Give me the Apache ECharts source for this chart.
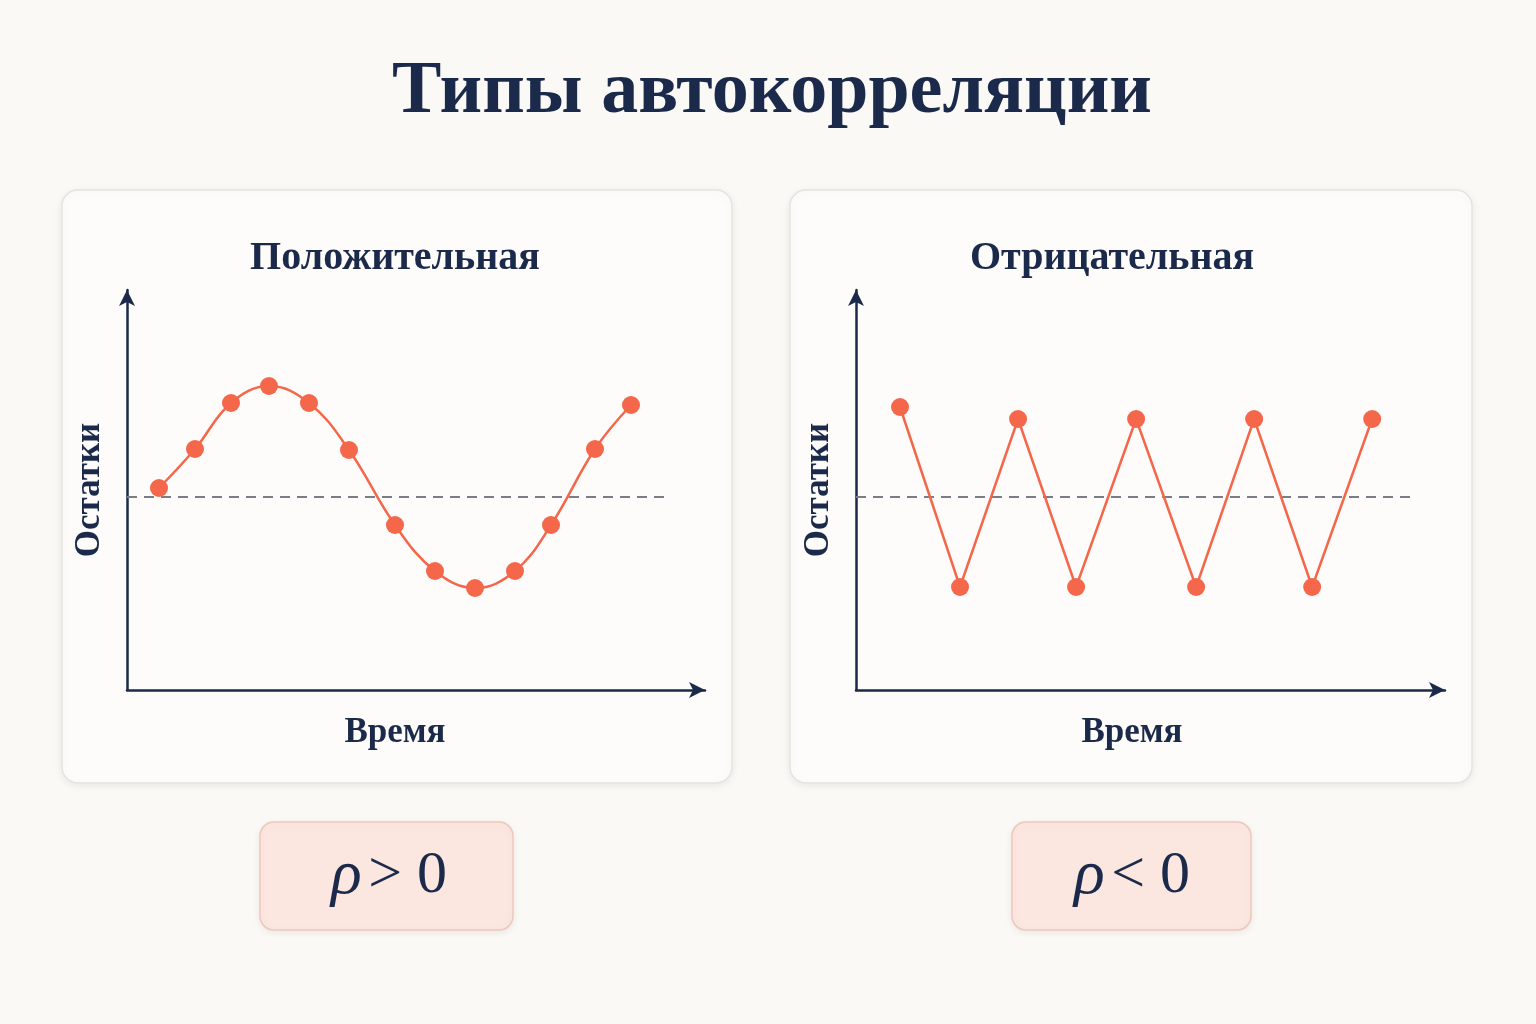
<!DOCTYPE html>
<html><head><meta charset="utf-8">
<script src="https://cdn.jsdelivr.net/npm/echarts@6/dist/echarts.min.js"></script>
<style>html,body{margin:0;background:#faf9f6}#c{width:1536px;height:1024px}</style>
</head><body><div id="c"></div>
<script>
const title = 'Типы автокорреляции';
const panelTitles = ['Положительная', 'Отрицательная'];
const xName = 'Время';
const yName = 'Остатки';
const rhoLabels = ['> 0', '< 0'];
const posT = [0.8,1.7,2.6,3.55,4.55,5.55,6.7,7.7,8.7,9.7,10.6,11.7,12.6];
const posR = [0.09,0.48,0.94,1.11,0.94,0.47,-0.28,-0.74,-0.91,-0.74,-0.28,0.48,0.92];
const negT = [1.1,2.6,4.05,5.5,7.0,8.5,9.95,11.4,12.9];
const negR = [0.9,-0.9,0.78,-0.9,0.78,-0.9,0.78,-0.9,0.78];

const navy = '#1b2a4a', red = '#f4674a', serif = '"Liberation Serif","DejaVu Serif",serif';
const chart = echarts.init(document.getElementById('c'));
function axes(i, max){
  return {
    x: {type:'value', gridIndex:i, min:0, max:max, axisLine:{onZero:false, lineStyle:{color:navy,width:2.5}, symbol:['none','arrow'], symbolSize:[12,16]},
        axisTick:{show:false}, axisLabel:{show:false}, splitLine:{show:false}},
    y: {type:'value', gridIndex:i, min:-1.93, max:2.07, axisLine:{show:true, onZero:false, lineStyle:{color:navy,width:2.5}, symbol:['none','arrow'], symbolSize:[12,16]},
        axisTick:{show:false}, axisLabel:{show:false}, splitLine:{show:false}}
  };
}
const a0 = axes(0, 14.45), a1 = axes(1, 14.72);
function card(x, w){ return {type:'rect', shape:{x:x,y:190,width:w,height:593,r:16}, style:{fill:'#fdfcfa',stroke:'#e6e3de',lineWidth:1.5, shadowBlur:10, shadowColor:'rgba(0,0,0,0.08)', shadowOffsetY:2}, z:-10}; }
function box(x, w){ return {type:'rect', shape:{x:x,y:822,width:w,height:108,r:14}, style:{fill:'#fbe6e0',stroke:'#efc6bc',lineWidth:1.5, shadowBlur:8, shadowColor:'rgba(0,0,0,0.08)', shadowOffsetY:2}, z:-10}; }
function txt(x,y,t,size,extra){ return Object.assign({type:'text', x:x, y:y, style:{text:t, font:size, fill:navy, align:'center', verticalAlign:'middle'}}, extra||{}); }
function rho(x, s){ return {type:'text', x:x, y:876, style:{rich:{r:{font:'italic 64px '+serif, fill:navy}, o:{font:'60px '+serif, fill:navy}}, text:'{r|ρ}  {o|'+s+'}', align:'center', verticalAlign:'middle'}}; }
chart.setOption({
  animation:false,
  grid:[{left:127, top:290, width:578, height:400},{left:856, top:290, width:589, height:400}],
  xAxis:[a0.x, a1.x], yAxis:[a0.y, a1.y],
  graphic:[
    card(62,670), card(790,682), box(260,253), box(1012,239),
    txt(772,93,title,'bold 74px '+serif),
    txt(395,259,panelTitles[0],'600 40px '+serif),
    txt(1112,259,panelTitles[1],'600 40px '+serif),
    txt(395,733,xName,'600 35px '+serif),
    txt(1132,733,xName,'600 35px '+serif),
    txt(90,490,yName,'600 35px '+serif,{rotation:Math.PI/2}),
    txt(819,490,yName,'600 35px '+serif,{rotation:Math.PI/2}),
    rho(389, rhoLabels[0]), rho(1132, rhoLabels[1])
  ],
  series:[
    {type:'line', xAxisIndex:0, yAxisIndex:0, data:[[0,0],[13.5,0]], symbol:'none', lineStyle:{color:'#7a7d85', type:[10,7], width:2}},
    {type:'line', xAxisIndex:1, yAxisIndex:1, data:[[0,0],[13.9,0]], symbol:'none', lineStyle:{color:'#7a7d85', type:[10,7], width:2}},
    {type:'line', xAxisIndex:0, yAxisIndex:0, smooth:0.4, data:posT.map((t,i)=>[t,posR[i]]), symbol:'circle', symbolSize:18, itemStyle:{color:red}, lineStyle:{color:red,width:2.5}},
    {type:'line', xAxisIndex:1, yAxisIndex:1, data:negT.map((t,i)=>[t,negR[i]]), symbol:'circle', symbolSize:18, itemStyle:{color:red}, lineStyle:{color:red,width:2.5}}
  ]
});
</script></body></html>
